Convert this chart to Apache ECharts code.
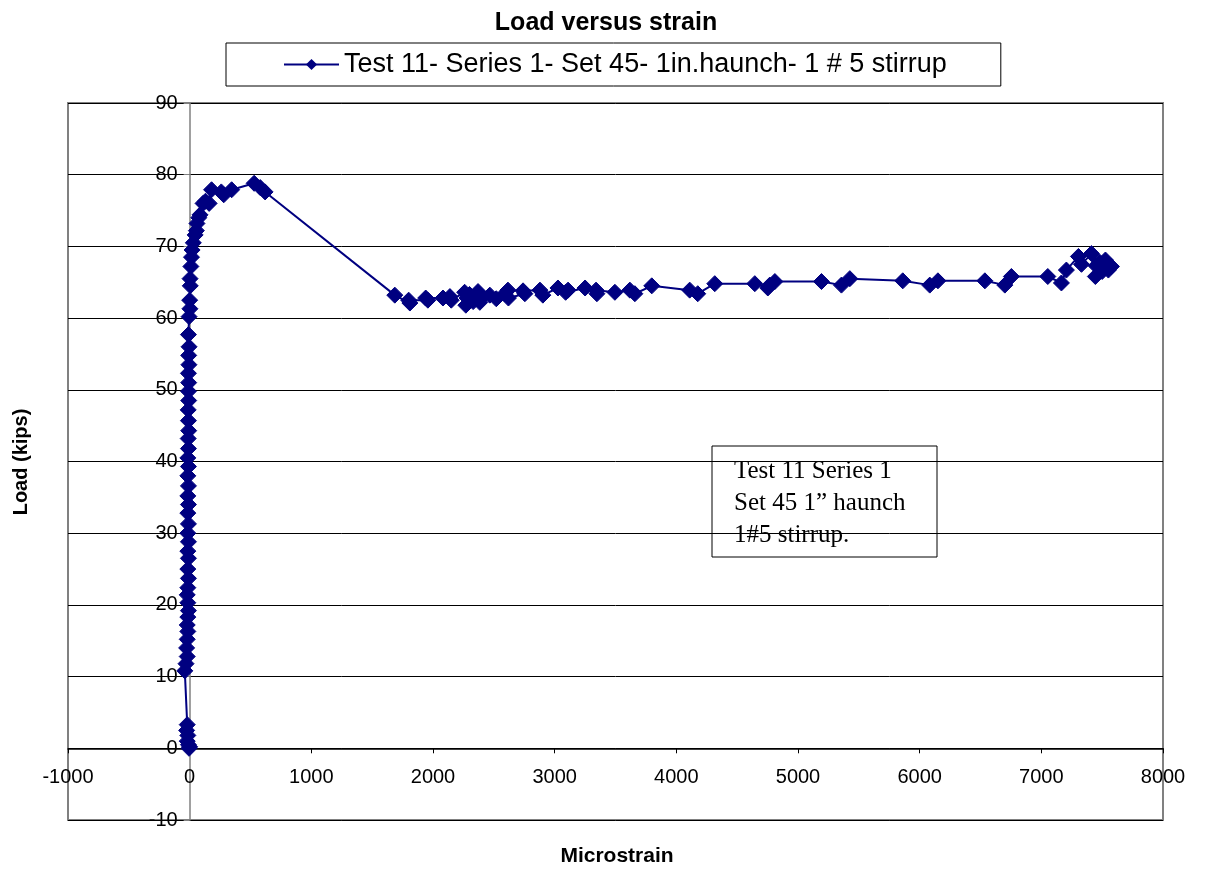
<!DOCTYPE html>
<html><head><meta charset="utf-8">
<script src="https://cdn.jsdelivr.net/npm/echarts@6/dist/echarts.min.js"></script>
<style>html,body{margin:0;padding:0;background:#fff}#c{width:1207px;height:871px}</style>
</head><body><div id="c"></div>
<script>
const chartTitle = 'Load versus strain';
const seriesName = 'Test 11- Series 1- Set 45- 1in.haunch- 1 # 5 stirrup';
const xAxisName = 'Microstrain';
const yAxisName = 'Load (kips)';
const noteLines = ['Test 11 Series 1', 'Set 45 1\u201d haunch', '1#5 stirrup.'];

const microstrain = [
  -5, 0, -10, -20, -15, -25, -20, -40, -30, -20, -25, -20, -15, -20, -15, -10, -15, -20, -15, -10,
  -15, -10, -15, -10, -15, -10, -15, -10, -15, -10, -15, -10, -15, -10, -12, -8, -10, -12, -8, -10,
  -8, -10, -6, -8, -5, -10, -5, 2, 0, 5, 3, 10, 15, 20, 30, 45, 55, 60, 75, 85,
  110, 130, 160, 180, 260, 280, 345, 530, 580, 620,
  1686, 1810, 1800, 1958, 1940, 2082, 2139, 2150, 2260, 2270, 2280, 2300, 2330, 2370, 2385, 2400,
  2467, 2520, 2590, 2616, 2620, 2755, 2740, 2879, 2903, 3027, 3110, 3090, 3250, 3347, 3340, 3495,
  3618, 3659, 3798, 4110, 4176, 4316, 4645, 4752, 4768, 4810, 5193, 5357, 5426, 5861, 6083, 6150,
  6536, 6700, 6754, 7053, 7165, 7206, 7305, 7330, 7412, 7444, 7480, 7527, 7551, 7576, 7500, 7450, 7540
];
const loadKips = [
  0, 0.2, 0.5, 1, 1.8, 2.5, 3.3, 10.8, 11.8, 12.8, 14, 15.2, 16.3, 17.2, 18.3, 19.2, 20.3, 21.4, 22.4, 23.7,
  25, 26.5, 27.5, 28.8, 30, 31.3, 32.8, 34, 35.2, 36.6, 38, 39.3, 40.5, 41.8, 43.2, 44.3, 45.7, 47.2, 48.5, 49.8,
  51, 52.3, 53.5, 54.8, 56, 57.7, 60.2, 61.3, 62.5, 64.5, 65.5, 67.2, 68.5, 69.5, 70.5, 71.6, 72.2, 73.2, 74, 74.4,
  76, 76.3, 76, 77.9, 77.6, 77.2, 77.9, 78.8, 78.2, 77.6,
  63.2, 62.1, 62.5, 62.5, 62.8, 62.8, 63, 62.5, 63.6, 61.8, 62.8, 63.3, 62.3, 63.7, 62.2, 62.9,
  63.2, 62.7, 63.4, 63.9, 62.8, 63.4, 63.8, 63.9, 63.2, 64.2, 63.9, 63.6, 64.2, 63.4, 63.9, 63.6,
  63.9, 63.4, 64.5, 63.9, 63.4, 64.8, 64.8, 64.2, 64.6, 65.1, 65.1, 64.6, 65.5, 65.2, 64.6, 65.2,
  65.2, 64.6, 65.8, 65.8, 64.9, 66.7, 68.6, 67.5, 69, 65.8, 67.8, 68.1, 66.7, 67.2, 66.5, 67.3, 67.5
];

const points = microstrain.map((x, i) => [x, loadKips[i]]);
const chart = echarts.init(document.getElementById('c'));
const navy = '#000080';
const gridRect = {left: 68, top: 103, width: 1095, height: 717};
const xMin = -1000, xMax = 8000, yMin = -10, yMax = 90;
// shift axes so they cross at zero (labels follow the axis)
const yAxisOffset = -gridRect.width * (0 - xMin) / (xMax - xMin);
const xAxisOffset = -gridRect.height * (0 - yMin) / (yMax - yMin);
const font = '"Liberation Sans", Arial, sans-serif';
chart.setOption({
  animation: false,
  backgroundColor: '#fff',
  title: {
    text: chartTitle, left: 601, top: 6, textAlign: 'center',
    textStyle: {fontFamily: font, fontSize: 25, fontWeight: 'bold', color: '#000'}
  },
  legend: {
    left: 226, top: 43, padding: [8, 54, 8, 57],
    borderColor: '#000', borderWidth: 1,
    itemWidth: 55, itemHeight: 14, itemGap: 10,
    textStyle: {fontFamily: font, fontSize: 27, color: '#000', padding: [0, 0, 0, 0]},
    data: [seriesName]
  },
  grid: {
    left: gridRect.left, top: gridRect.top, width: gridRect.width, height: gridRect.height,
    show: true, borderColor: '#808080', borderWidth: 2, backgroundColor: 'transparent'
  },
  xAxis: {
    type: 'value', min: xMin, max: xMax, interval: 1000, offset: xAxisOffset,
    axisLine: {onZero: false, lineStyle: {color: '#000', width: 1.5}},
    axisTick: {show: true, length: 5, lineStyle: {color: '#000'}},
    axisLabel: {margin: 19, fontFamily: font, fontSize: 20, color: '#000', formatter: v => String(v)},
    splitLine: {show: false}
  },
  yAxis: {
    type: 'value', min: yMin, max: yMax, interval: 10, offset: yAxisOffset,
    axisLine: {show: true, onZero: false, lineStyle: {color: '#808080', width: 1.5}},
    axisTick: {show: true, length: 6, lineStyle: {color: '#808080'}},
    axisLabel: {margin: 12, fontFamily: font, fontSize: 20, color: '#000', formatter: v => String(v)},
    splitLine: {show: true, lineStyle: {color: '#000', width: 1}}
  },
  series: [{
    name: seriesName, type: 'line', data: points,
    symbol: 'diamond', symbolSize: 16, showAllSymbol: true,
    lineStyle: {color: navy, width: 2},
    itemStyle: {color: navy, borderColor: navy},
    z: 3
  }],
  graphic: [
    {type: 'text', x: 21, y: 462, rotation: Math.PI / 2,
      style: {text: yAxisName, font: 'bold 20px ' + font, fill: '#000', align: 'center', verticalAlign: 'middle'}},
    {type: 'text', x: 617, y: 856,
      style: {text: xAxisName, font: 'bold 21px ' + font, fill: '#000', align: 'center', verticalAlign: 'middle'}},
    {type: 'group', x: 712, y: 446, children: [
      {type: 'rect', shape: {x: 0, y: 0, width: 225, height: 111}, style: {fill: '#fff', stroke: '#000', lineWidth: 1}},
      {type: 'text', x: 22, y: 9, style: {text: noteLines.join('\n'), font: '25px "Liberation Serif", "Times New Roman", serif', lineHeight: 32, fill: '#000'}}
    ]}
  ]
});
</script></body></html>
